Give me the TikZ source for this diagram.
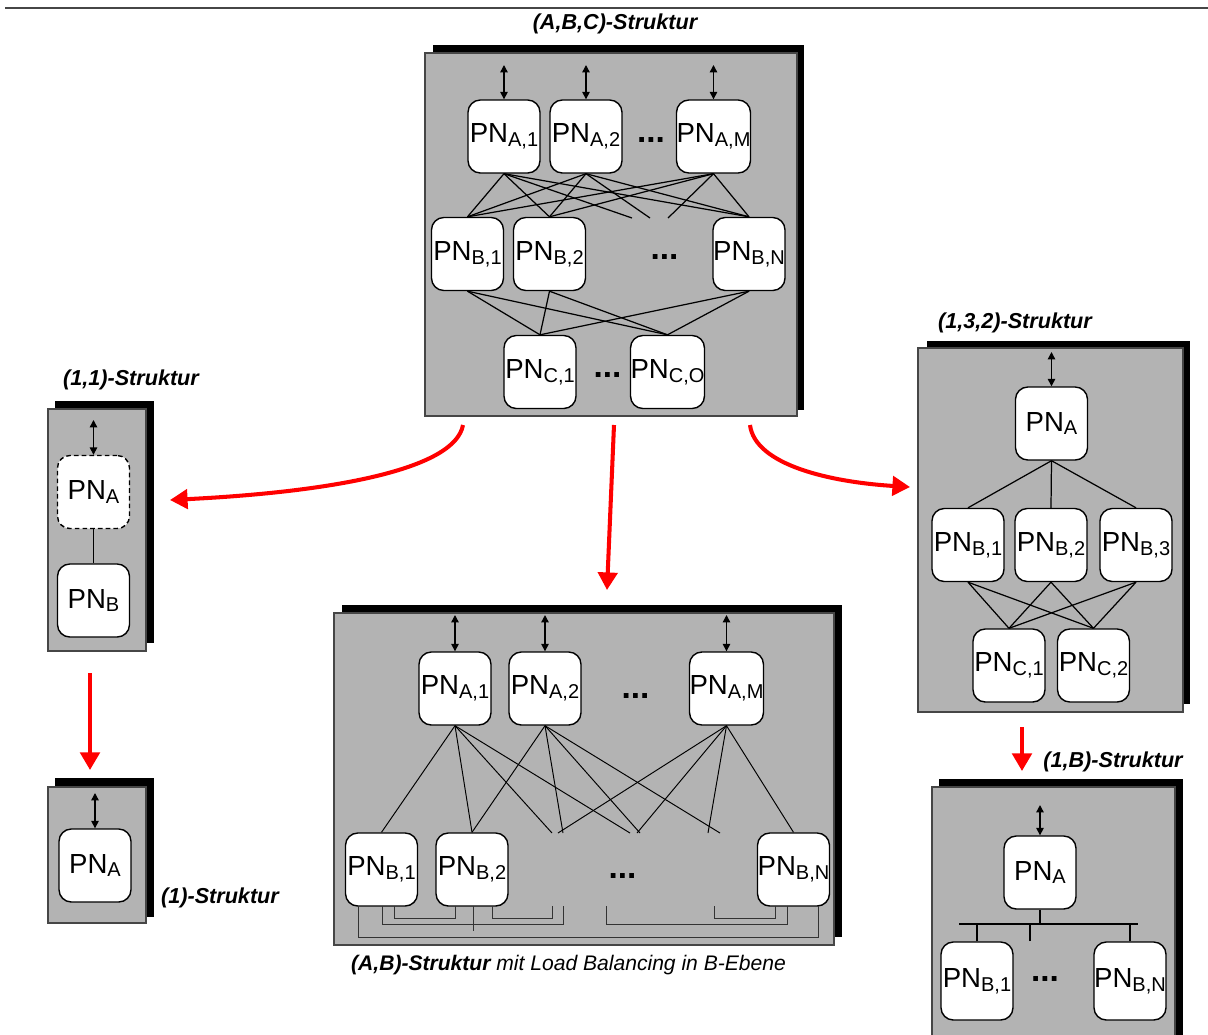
\documentclass[tikz,border=0pt]{standalone}
\usepackage{fontspec}
\setmainfont{Liberation Sans}
\usetikzlibrary{arrows.meta}
\definecolor{panelgray}{RGB}{179,179,179}
\definecolor{framegray}{RGB}{70,70,70}
% processing node label with a lowered, smaller index
\newcommand{\pnsub}[1]{PN\raisebox{-2.2pt}{\fontsize{11.4}{12}\selectfont #1}}

\begin{document}
\begin{tikzpicture}[x=0.02cm,y=-0.02cm,
  pnbox/.style={draw=black, fill=white, rounded corners=7pt, minimum width=1.44cm,
    minimum height=1.46cm, inner sep=0pt, line width=0.8pt,
    font=\fontsize{15.7}{17}\selectfont},
  dashbox/.style={pnbox, dash pattern=on 2.6pt off 1.8pt},
  panel/.style={fill=panelgray, draw=framegray, line width=0.6pt},
  shade/.style={fill=black},
  io/.style={{Triangle[length=4.2pt,width=4.2pt]}-{Triangle[length=4.2pt,width=4.2pt]}, line width=0.8pt},
  link/.style={line width=0.7pt},
  thinlink/.style={line width=0.55pt},
  lb/.style={line width=0.55pt, draw=black!80},
  flow/.style={draw=red, line width=2.3pt, -{Triangle[length=10pt,width=11pt]}},
  title/.style={font=\fontsize{12.3}{14}\selectfont\bfseries\itshape},
  dots/.style={font=\fontsize{19}{20}\selectfont\bfseries, inner sep=0pt},
]
\useasboundingbox (0,0) rectangle (1208,1035);
\clip (0,0) rectangle (1208,1035);

% rule along the top
\coordinate (rule-l) at (5,8);
\coordinate (rule-r) at (1208,8);
\draw[framegray, line width=0.9pt] (rule-l) -- (rule-r);

% ---------------- (A,B,C) structure ----------------
\node[title] (abc-title) at (615,24) {(A,B,C)-Struktur};
\fill[shade] (433,45) rectangle (804,410);
\draw[panel] (425,53) rectangle (797,416);
\node[pnbox] (abc-a1) at (504,136.5) {\pnsub{A,1}};
\node[pnbox] (abc-a2) at (586,136.5) {\pnsub{A,2}};
\node[pnbox] (abc-aM) at (713.5,136.5) {\pnsub{A,M}};
\node[dots] (abc-da) at (651,140) {...};
\node[pnbox] (abc-b1) at (467.5,254) {\pnsub{B,1}};
\node[pnbox] (abc-b2) at (549.5,254) {\pnsub{B,2}};
\node[pnbox] (abc-bN) at (749,254) {\pnsub{B,N}};
\node[dots] (abc-db) at (664.5,257) {...};
\node[pnbox] (abc-c1) at (540,372) {\pnsub{C,1}};
\node[pnbox] (abc-cO) at (667.5,372) {\pnsub{C,O}};
\node[dots] (abc-dc) at (607.5,375) {...};
\foreach \n/\x in {a1/504, a2/586, aM/713.5}{
  \coordinate (abc-io-\n) at (\x,65);
  \draw[io] (abc-io-\n) -- (abc-\n.north);
}
\coordinate (abc-e1) at (632,218);
\coordinate (abc-e2) at (650,218);
\coordinate (abc-e3) at (668,218);
\foreach \n/\e in {a1/e1, a2/e2, aM/e3}{
  \draw[link] (abc-\n.south) -- (abc-b1.north);
  \draw[link] (abc-\n.south) -- (abc-b2.north);
  \draw[link] (abc-\n.south) -- (abc-\e);
  \draw[link] (abc-\n.south) -- (abc-bN.north);
}
\foreach \b in {b1,b2,bN}{
  \draw[link] (abc-\b.south) -- (abc-c1.north);
  \draw[link] (abc-\b.south) -- (abc-cO.north);
}

% ---------------- (1,1) structure ----------------
\node[title] (s11-title) at (131,380) {(1,1)-Struktur};
\fill[shade] (55,401) rectangle (154,643);
\draw[panel] (48,409) rectangle (146,651);
\node[dashbox] (s11-a) at (93.5,492) {\pnsub{A}};
\node[pnbox] (s11-b) at (93.5,600.5) {\pnsub{B}};
\coordinate (s11-io) at (93.5,420);
\draw[io] (s11-io) -- (s11-a.north);
\draw[link, line width=1.1pt] (s11-a.south) -- (s11-b.north);

% ---------------- (1) structure ----------------
\fill[shade] (55,778) rectangle (154,917);
\draw[panel] (48,787) rectangle (146,923);
\node[pnbox] (s1-a) at (95,865.5) {\pnsub{A}};
\coordinate (s1-io) at (95,793);
\draw[io] (s1-io) -- (s1-a.north);
\node[title] (s1-title) at (220,898) {(1)-Struktur};

% ---------------- (A,B) structure with load balancing ----------------
\fill[shade] (342,605) rectangle (842,937);
\draw[panel] (334,613) rectangle (834,945);
\node[pnbox] (ab-a1) at (455,688.5) {\pnsub{A,1}};
\node[pnbox] (ab-a2) at (545,688.5) {\pnsub{A,2}};
\node[pnbox] (ab-aM) at (726.5,688.5) {\pnsub{A,M}};
\node[dots] (ab-da) at (635.5,696) {...};
\node[pnbox] (ab-b1) at (381.5,869.5) {\pnsub{B,1}};
\node[pnbox] (ab-b2) at (472,869.5) {\pnsub{B,2}};
\node[pnbox] (ab-bN) at (793.5,869.5) {\pnsub{B,N}};
\node[dots] (ab-db) at (622.5,876) {...};
\foreach \n/\x in {a1/455, a2/545, aM/726.5}{
  \coordinate (ab-io-\n) at (\x,615);
  \draw[io] (ab-io-\n) -- (ab-\n.north);
}
\foreach \e/\x in {1/552, 2/563, 3/558, 4/630, 5/640, 6/637, 7/720, 8/708}{
  \coordinate (ab-e\e) at (\x,833);
}
\draw[thinlink] (ab-a1.south) -- (ab-b1.north);
\draw[thinlink] (ab-a1.south) -- (ab-b2.north);
\draw[thinlink] (ab-a1.south) -- (ab-e1);
\draw[thinlink] (ab-a1.south) -- (ab-e4);
\draw[thinlink] (ab-a2.south) -- (ab-b2.north);
\draw[thinlink] (ab-a2.south) -- (ab-e2);
\draw[thinlink] (ab-a2.south) -- (ab-e5);
\draw[thinlink] (ab-a2.south) -- (ab-e7);
\draw[thinlink] (ab-aM.south) -- (ab-e3);
\draw[thinlink] (ab-aM.south) -- (ab-e6);
\draw[thinlink] (ab-aM.south) -- (ab-e8);
\draw[thinlink] (ab-aM.south) -- (ab-bN.north);
% load balancing links in the B level
\foreach \k/\x in {358/358, 382/382, 394/394, 455/455, 473/473, 492/492, 552/552,
                   563/563, 606/606, 714/714, 775/775, 787/787, 818/818}{
  \coordinate (lbx\k) at (\x,906);
}
\draw[lb] (lbx358) |- (818,937) -- (lbx818);
\draw[lb] (lbx382) |- (563,924) -- (lbx563);
\draw[lb] (lbx394) |- (455,918) -- (lbx455);
\draw[lb] (lbx473) -- (473,931);
\draw[lb] (lbx492) |- (552,918) -- (lbx552);
\draw[lb] (lbx606) |- (787,924) -- (lbx787);
\draw[lb] (lbx714) |- (775,918) -- (lbx775);
\node[anchor=west, font=\fontsize{12}{14}\selectfont\itshape] (ab-title) at (345,965)
  {\textbf{(A,B)-Struktur} mit Load Balancing in B-Ebene};

% ---------------- (1,3,2) structure ----------------
\node[title] (s132-title) at (1015,323) {(1,3,2)-Struktur};
\fill[shade] (927,341) rectangle (1190,704);
\draw[panel] (918,348) rectangle (1183,712);
\node[pnbox] (s132-a) at (1051.5,423.5) {\pnsub{A}};
\node[pnbox] (s132-b1) at (968,545) {\pnsub{B,1}};
\node[pnbox] (s132-b2) at (1051,545) {\pnsub{B,2}};
\node[pnbox] (s132-b3) at (1136,545) {\pnsub{B,3}};
\node[pnbox] (s132-c1) at (1009,665.5) {\pnsub{C,1}};
\node[pnbox] (s132-c2) at (1093.5,665.5) {\pnsub{C,2}};
\coordinate (s132-io) at (1051.5,352);
\draw[io] (s132-io) -- (s132-a.north);
\foreach \b in {b1,b2,b3}{
  \draw[link] (s132-a.south) -- (s132-\b.north);
  \draw[link] (s132-\b.south) -- (s132-c1.north);
  \draw[link] (s132-\b.south) -- (s132-c2.north);
}

% ---------------- (1,B) structure ----------------
\node[title] (s1b-title) at (1113,762) {(1,B)-Struktur};
\fill[shade] (939,779) rectangle (1183,1045);
\draw[panel] (932,787) rectangle (1175,1050);
\node[pnbox] (s1b-a) at (1040,872.5) {\pnsub{A}};
\node[pnbox, minimum height=1.56cm] (s1b-b1) at (977,981) {\pnsub{B,1}};
\node[pnbox, minimum height=1.56cm] (s1b-bN) at (1130,981) {\pnsub{B,N}};
\node[dots] (s1b-db) at (1045,979) {...};
\coordinate (s1b-io) at (1040,805);
\draw[io] (s1b-io) -- (s1b-a.north);
\coordinate (bus-l) at (959,924);
\coordinate (bus-r) at (1138,924);
\coordinate (bus-m) at (1040,924);
\coordinate (bus-t) at (1030,941);
\draw[line width=1.3pt] (bus-l) -- (bus-r);
\draw[line width=1.3pt] (s1b-a.south) -- (bus-m);
\draw[line width=1.3pt] (s1b-b1.north) -- (s1b-b1.north |- bus-l);
\draw[line width=1.3pt] (s1b-bN.north) -- (s1b-bN.north |- bus-l);
\draw[line width=1.3pt] (bus-t) -- (bus-t |- bus-l);

% ---------------- derivations ----------------
\coordinate (abc-out-l) at (463,425);
\coordinate (abc-out-m) at (614,425);
\coordinate (abc-out-r) at (750,425);
\coordinate (s11-in) at (170,500);
\coordinate (ab-in) at (607,590);
\coordinate (s132-in) at (910,487);
\coordinate (s11-out) at (90,673);
\coordinate (s1-in) at (90,770);
\coordinate (s132-out) at (1022,727);
\coordinate (s1b-in) at (1022,771);
\draw[flow] (abc-out-l) .. controls (455,470) and (330,492) .. (s11-in);
\draw[flow] (abc-out-m) -- (ab-in);
\draw[flow] (abc-out-r) .. controls (755,465) and (830,482) .. (s132-in);
\draw[flow] (s11-out) -- (s1-in);
\draw[flow] (s132-out) -- (s1b-in);
\end{tikzpicture}
\end{document}
